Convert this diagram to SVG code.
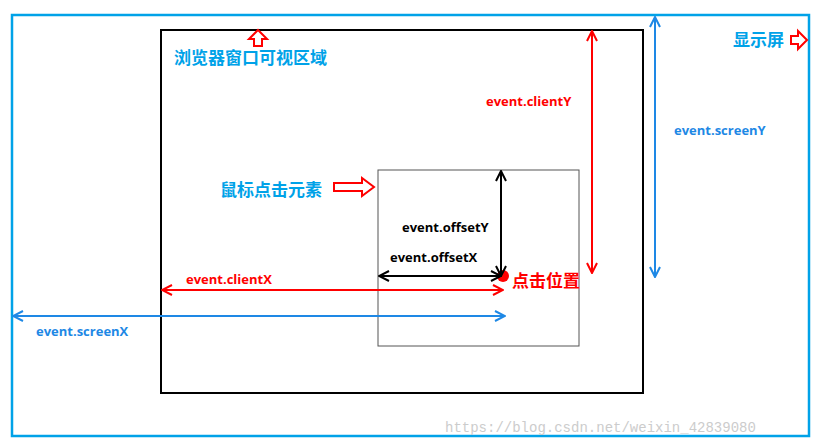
<svg xmlns="http://www.w3.org/2000/svg" width="827" height="446" viewBox="0 0 827 446">
<style>
.cn{font-family:"Noto Sans CJK SC","Noto Sans",sans-serif;font-weight:bold;font-size:17px}
.en{font-family:"Open Sans","Liberation Sans",sans-serif;font-weight:bold;font-size:13px}
.blk{fill:none;stroke-width:2}
.hol{fill:#fff;stroke:#f00;stroke-width:2}
</style>
<defs>
<marker id="ar" viewBox="0 0 12 12" refX="11" refY="6" markerWidth="12" markerHeight="12" markerUnits="userSpaceOnUse" orient="auto-start-reverse"><path d="M1,1 L11,6 L1,11" fill="none" stroke="context-stroke" stroke-width="2"/></marker>
</defs>
<rect width="827" height="446" fill="#fff"/>
<g id="screen"><rect x="12" y="15" width="797" height="421" fill="none" stroke="#00a2e8" stroke-width="2.5"/>
<text x="733" y="46" class="cn" fill="#00a2e8">显示屏</text>
<path class="hol" d="M791,36 h7 v-5 l9,9 l-9,9 v-5 h-7z"/></g>
<g id="browser"><rect x="161" y="30" width="482" height="363" fill="none" stroke="#000" stroke-width="2"/>
<text x="174" y="64" class="cn" fill="#00a2e8">浏览器窗口可视区域</text>
<path class="hol" d="M254,46 v-7 h-5 l9,-9 l9,9 h-5 v7z"/></g>
<g id="element"><rect x="378" y="170" width="201" height="176" fill="none" stroke="#555" stroke-width="1"/>
<text x="220" y="196" class="cn" fill="#00a2e8">鼠标点击元素</text>
<path class="hol" d="M334,183 h28 v-5 l12,9 l-12,9 v-5 h-28z"/></g>
<g id="click"><circle cx="503" cy="276" r="6" fill="#f00"/>
<text x="512" y="287" class="cn" fill="#f00">点击位置</text></g>
<g id="connectors">
<line x1="592" y1="31" x2="592" y2="273" stroke="#f00" class="blk" marker-start="url(#ar)" marker-end="url(#ar)"/>
<line x1="655" y1="17" x2="655" y2="277" stroke="#1e88e5" class="blk" marker-start="url(#ar)" marker-end="url(#ar)"/>
<line x1="162" y1="290" x2="503" y2="290" stroke="#f00" class="blk" marker-start="url(#ar)" marker-end="url(#ar)"/>
<line x1="13" y1="316" x2="505" y2="316" stroke="#1e88e5" class="blk" marker-start="url(#ar)" marker-end="url(#ar)"/>
<line x1="501" y1="171" x2="501" y2="276" stroke="#000" class="blk" marker-start="url(#ar)" marker-end="url(#ar)"/>
<line x1="379" y1="276" x2="501" y2="276" stroke="#000" class="blk" marker-start="url(#ar)" marker-end="url(#ar)"/>
</g>
<g id="labels">
<text x="486" y="106" class="en" fill="#f00">event.clientY</text>
<text x="674" y="135" class="en" fill="#1e88e5">event.screenY</text>
<text x="186" y="284" class="en" fill="#f00">event.clientX</text>
<text x="36" y="336" class="en" fill="#1e88e5">event.screenX</text>
<text x="402" y="232" class="en" fill="#000">event.offsetY</text>
<text x="390" y="262" class="en" fill="#000">event.offsetX</text>
<text x="445" y="432" font-family="Liberation Mono,monospace" font-size="14" fill="#ccc">https://blog.csdn.net/weixin_42839080</text>
</g>
</svg>
